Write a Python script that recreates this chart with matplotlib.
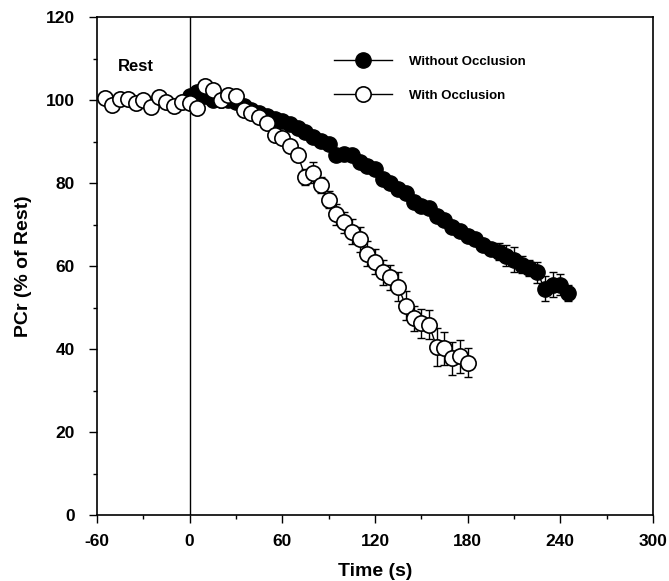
import numpy as np
import matplotlib.pyplot as plt
from matplotlib.ticker import MultipleLocator

plt.rcParams['font.family'] = ['Liberation Sans', 'DejaVu Sans']
plt.rcParams['font.weight'] = 'bold'
plt.rcParams['axes.unicode_minus'] = False

# with occlusion (open circles), every 5 s from -55 s
t_open = np.arange(-55, 181, 5)
pcr_open = [100.4, 98.8, 100.2, 100.2, 99.2, 100.0, 98.4, 100.8, 99.6, 98.6, 99.6,
            99.2, 98.2, 103.5, 102.5, 100.0, 101.2, 101.0, 97.6, 96.8, 96.0, 94.4,
            91.5, 90.8, 89.0, 86.7, 81.5, 82.5, 79.5, 76.0, 72.5, 70.5, 68.3, 66.5,
            63.0, 61.0, 58.5, 57.3, 55.0, 50.4, 47.4, 46.2, 45.8, 40.5, 40.2, 37.8,
            38.2, 36.7]
err_open = [0.5] * 26 + [2.0, 2.5, 2.0, 2.0, 2.5, 2.5, 3.0, 3.0, 3.0, 3.0, 3.0,
                         3.0, 3.5, 3.5, 3.0, 3.5, 3.5, 4.5, 4.0, 4.0, 4.0, 3.5]

# without occlusion (filled circles), every 5 s from 0 s
t_fill = np.arange(0, 246, 5)
pcr_fill = [101.0, 102.0, 101.0, 100.0, 100.0, 100.0, 99.5, 98.5, 97.5, 96.8,
            96.2, 95.5, 95.0, 94.2, 93.2, 92.2, 91.2, 90.2, 89.5, 86.7, 87.0,
            86.8, 85.0, 84.2, 83.5, 81.0, 80.0, 78.5, 77.5, 75.5, 74.5, 74.0,
            72.0, 71.0, 69.5, 68.5, 67.3, 66.5, 65.0, 64.0, 63.5, 62.5, 61.5,
            60.3, 59.5, 58.5, 54.5, 55.5, 55.5, 53.5]
err_fill = [0.5] * 40 + [2.0, 2.5, 3.0, 2.0, 2.0, 2.5, 3.0, 3.0, 2.5, 2.0]

fig = plt.figure(figsize=(6.69, 5.81), dpi=100)
ax = fig.add_axes([0.145, 0.1136, 0.831, 0.857])

ax.errorbar(t_fill, pcr_fill, yerr=err_fill, fmt='none', ecolor='black',
            elinewidth=1.0, capsize=3, capthick=1.0, zorder=1)
ax.plot(t_fill, pcr_fill, 'o-', color='black', mfc='black', mec='black',
        ms=11, lw=1, zorder=2, label='Without Occlusion')
ax.errorbar(t_open, pcr_open, yerr=err_open, fmt='none', ecolor='black',
            elinewidth=1.0, capsize=3, capthick=1.0, zorder=3)
ax.plot(t_open, pcr_open, 'o-', color='black', mfc='white', mec='black',
        ms=11, mew=1.2, lw=1, zorder=4, label='With Occlusion')

ax.axvline(0, color='black', lw=1, zorder=0)
ax.text(-35, 108, 'Rest', ha='center', va='center', fontsize=12, fontweight='bold')

ax.legend(loc='upper left', bbox_to_anchor=(0.405, 0.946), frameon=False,
          handlelength=4.4, labelspacing=1.65, handletextpad=1.3,
          prop={'size': 9.5, 'weight': 'bold'})

ax.set_xlim(-60, 300)
ax.set_ylim(0, 120)
ax.xaxis.set_major_locator(MultipleLocator(60))
ax.xaxis.set_minor_locator(MultipleLocator(30))
ax.yaxis.set_major_locator(MultipleLocator(20))
ax.yaxis.set_minor_locator(MultipleLocator(10))
ax.tick_params(which='major', direction='out', length=6, width=1, labelsize=12.5)
ax.tick_params(which='minor', direction='out', length=3, width=1)
ax.tick_params(axis='x', which='major', pad=8)
ax.tick_params(axis='y', which='major', pad=10)
for s in ax.spines.values():
    s.set_linewidth(1.2)

ax.set_xlabel('Time (s)', fontsize=14, fontweight='bold', labelpad=10)
ax.set_ylabel('PCr (% of Rest)', fontsize=14, fontweight='bold', labelpad=10)

plt.savefig('out.png', dpi=100)
